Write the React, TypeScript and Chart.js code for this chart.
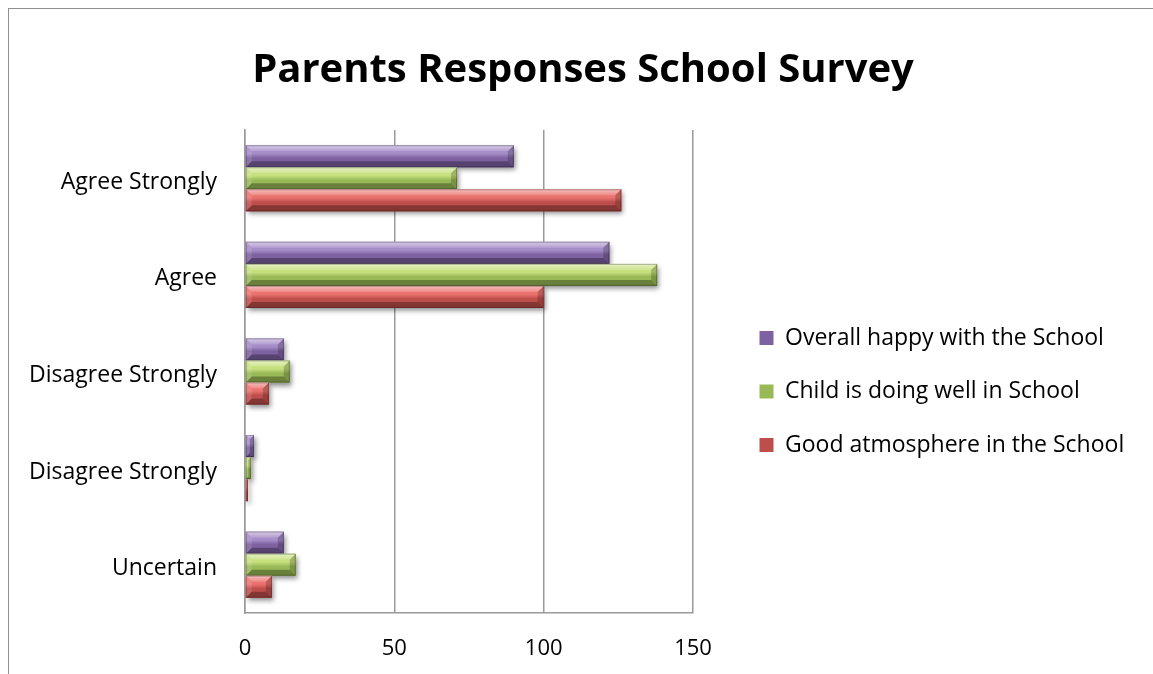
import React, { useEffect, useRef } from 'react';
import { Chart, registerables } from 'chart.js';

Chart.register(...registerables);

const TITLE = 'Parents Responses School Survey';
const categories = ['Agree Strongly', 'Agree', 'Disagree Strongly', 'Disagree Strongly', 'Uncertain'];
const seriesNames = [
  'Overall happy with the School',
  'Child is doing well in School',
  'Good atmosphere in the School',
];
const overallHappy = [90, 122, 13, 3, 13];
const childDoingWell = [71, 138, 15, 2, 17];
const goodAtmosphere = [126, 100, 8, 1, 9];
const xMin = 0;
const xMax = 150;
const xStep = 50;

const FACE = ['#7D61A0', '#99B957', '#BE4E4B'];
const UPPER = ['#A68CC9', '#C6E07E', '#EA736F'];

const FONT = 'Open Sans';
const CANVAS_W = 1137;
const CANVAS_H = 658;
const LEGEND_W = 416;

const legendWidthPlugin = {
  id: 'legendWidth',
  beforeLayout(chart: any) {
    const lg = chart.legend;
    if (lg && !lg.__patched) {
      const orig = lg.fit;
      lg.fit = function () {
        orig.call(this);
        if (this.options.display) this.width = LEGEND_W;
      };
      lg.__patched = true;
    }
  },
};

const bevelPlugin = {
  id: 'bevel',
  beforeDatasetsDraw(chart: any) {
    const ctx = chart.ctx;
    ctx.save();
    ctx.shadowColor = 'rgba(0,0,0,0.45)';
    ctx.shadowBlur = 5;
    ctx.shadowOffsetX = 2;
    ctx.shadowOffsetY = 3;
  },
  afterDatasetsDraw(chart: any) {
    const ctx = chart.ctx;
    ctx.restore();
    chart.data.datasets.forEach((_ds: any, di: number) => {
      const meta = chart.getDatasetMeta(di);
      meta.data.forEach((bar: any) => {
        const p = bar.getProps(['x', 'y', 'base', 'height'], true);
        const L = Math.min(p.base, p.x);
        const R = Math.max(p.base, p.x);
        const T = p.y - p.height / 2;
        const B = p.y + p.height / 2;
        const w = R - L;
        const h = B - T;
        if (w <= 0) return;
        const b = Math.min(6, w / 2, h / 2);
        const poly = (pts: number[][], fill: any) => {
          ctx.beginPath();
          ctx.moveTo(pts[0][0], pts[0][1]);
          for (let i = 1; i < pts.length; i++) ctx.lineTo(pts[i][0], pts[i][1]);
          ctx.closePath();
          ctx.fillStyle = fill;
          ctx.fill();
        };
        ctx.save();
        const g = ctx.createLinearGradient(0, T, 0, B);
        g.addColorStop(0, UPPER[di]);
        g.addColorStop(0.38, UPPER[di]);
        g.addColorStop(0.58, FACE[di]);
        g.addColorStop(1, FACE[di]);
        ctx.fillStyle = g;
        ctx.fillRect(L, T, w, h);
        const gTop = ctx.createLinearGradient(0, T, 0, T + b);
        gTop.addColorStop(0, 'rgba(255,255,255,0.55)');
        gTop.addColorStop(1, 'rgba(255,255,255,0.15)');
        poly([[L, T], [R, T], [R - b, T + b], [L + b, T + b]], gTop);
        poly([[L, B], [R, B], [R - b, B - b], [L + b, B - b]], 'rgba(0,0,0,0.3)');
        poly([[R, T], [R, B], [R - b, B - b], [R - b, T + b]], 'rgba(0,0,0,0.2)');
        poly([[L, T], [L + b, T + b], [L + b, B - b], [L, B]], 'rgba(255,255,255,0.12)');
        ctx.strokeStyle = 'rgba(0,0,0,0.25)';
        ctx.lineWidth = 1;
        ctx.strokeRect(L + 0.5, T + 0.5, Math.max(w - 1, 0), h - 1);
        ctx.restore();
      });
    });
  },
};

export default function App() {
  const ref = useRef<HTMLCanvasElement>(null);
  useEffect(() => {
    document.documentElement.style.overflow = 'hidden';
    document.body.style.overflow = 'hidden';
    const values = [overallHappy, childDoingWell, goodAtmosphere];
    const chart = new Chart(ref.current as HTMLCanvasElement, {
      type: 'bar',
      data: {
        labels: categories,
        datasets: seriesNames.map((name, i) => ({
          label: name,
          data: values[i],
          backgroundColor: FACE[i],
          borderWidth: 0,
          xAxisID: 'x',
          yAxisID: 'y',
          categoryPercentage: 0.684,
          barPercentage: 1,
        })),
      },
      options: {
        indexAxis: 'y',
        animation: false,
        responsive: false,
        layout: { padding: { left: 13, right: 0, top: 0, bottom: 0 } },
        plugins: {
          title: {
            display: true,
            text: TITLE,
            color: '#000',
            font: { family: FONT, size: 40, weight: 'bold', lineHeight: 1.2 },
            padding: { top: 39, bottom: 35 },
          },
          legend: {
            position: 'right',
            fullSize: false,
            align: 'center',
            title: { display: true, text: '', padding: { top: 39, bottom: 0 }, font: { size: 1, lineHeight: 1 } },
            labels: {
              boxWidth: 14,
              boxHeight: 14,
              padding: 30.5,
              color: '#000',
              font: { family: FONT, size: 23 },
            },
          },
          tooltip: { enabled: false },
        },
        scales: {
          x: {
            type: 'linear',
            min: xMin,
            max: xMax,
            ticks: { stepSize: xStep, padding: 23, color: '#000', font: { family: FONT, size: 22 } },
            grid: { display: true, drawTicks: false, color: '#9a9a9a', lineWidth: 1.5 },
            border: { display: true, color: '#9a9a9a', width: 1.5 },
            afterFit: (s: any) => { s.height = 53; },
          },
          y: {
            type: 'category',
            ticks: { padding: 28, labelOffset: 4, color: '#000', font: { family: FONT, size: 23 } },
            grid: { display: false, drawTicks: false },
            border: { display: true, color: '#9a9a9a', width: 1.5 },
            afterFit: (s: any) => { s.width = 224; },
          },
          gap: {
            type: 'linear',
            axis: 'y',
            position: 'right',
            display: true,
            grid: { display: false, drawTicks: false },
            border: { display: false },
            ticks: { display: false },
            afterFit: (s: any) => { s.width = 36; },
          },
        },
      } as any,
      plugins: [legendWidthPlugin, bevelPlugin],
    });
    return () => chart.destroy();
  }, []);
  return (
    <>
      <div
        style={{
          position: 'fixed',
          left: 8,
          top: 8,
          width: 1200,
          height: 700,
          borderLeft: '1.5px solid #8f8f8f',
          borderTop: '1.5px solid #8f8f8f',
          pointerEvents: 'none',
        }}
      />
      <canvas ref={ref} width={CANVAS_W} height={CANVAS_H} style={{ display: 'block' }} />
    </>
  );
}
